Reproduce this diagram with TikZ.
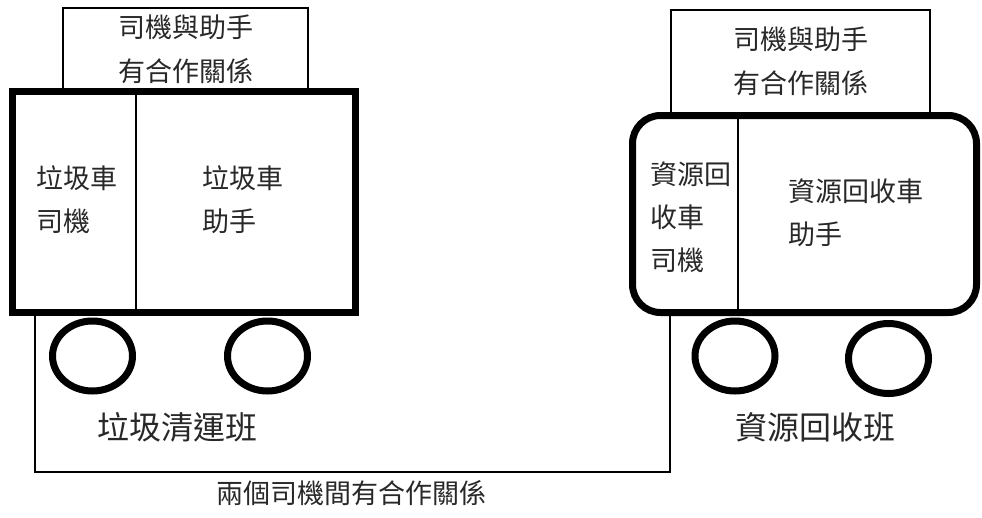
\documentclass[tikz,border=0pt]{standalone}
\usepackage{fontspec}
\newfontfamily\cjk{Noto Sans CJK TC}
\usetikzlibrary{shapes.geometric}
\definecolor{txt}{RGB}{40,40,40}
\tikzset{
  thinline/.style={line width=1.3pt, draw=black},
  topbox/.style={thinline, rectangle, inner sep=0pt, align=center, text=txt,
    font=\cjk\fontsize{27}{44}\selectfont},
  truckbody/.style={draw=black, line width=7pt, fill=white, inner sep=0pt},
  wheel/.style={ellipse, draw=black, line width=7pt, fill=white, inner sep=0pt,
    minimum width=80pt, minimum height=70pt},
  celltext/.style={inner sep=0pt, anchor=west, align=left, text=txt,
    font=\cjk\fontsize{27}{43}\selectfont},
  teamlabel/.style={inner sep=0pt, text=txt, font=\cjk\fontsize{32}{36}\selectfont},
  notelabel/.style={inner sep=0pt, text=txt, font=\cjk\fontsize{27}{32}\selectfont}
}
\begin{document}
\begin{tikzpicture}[x=1pt,y=-1pt]
\useasboundingbox (0,0) rectangle (982,517);
% top relationship boxes
\node[topbox, minimum width=245pt, minimum height=82pt] (ltop) at (185.5,49) {司機與助手\\有合作關係};
\node[topbox, minimum width=259pt, minimum height=103pt] (rtop) at (800.5,61.5) {司機與助手\\有合作關係};
% truck bodies
\node[truckbody, rectangle, minimum width=343pt, minimum height=221pt] (ltruck) at (184,202) {};
\node[truckbody, rectangle, rounded corners=28pt, minimum width=344pt, minimum height=197pt] (rtruck) at (804.5,214) {};
% dividers
\coordinate (ldiv) at (136,0);
\coordinate (rdiv) at (738,0);
\draw[thinline] (ltruck.north -| ldiv) -- (ltruck.south -| ldiv);
\draw[thinline] (rtruck.north -| rdiv) -- (rtruck.south -| rdiv);
% cell texts
\node[celltext] (ldriver) at (36,200) {垃圾車\\司機};
\node[celltext] (lhelper) at (202,200) {垃圾車\\助手};
\node[celltext] (rdriver) at (650,217.5) {資源回\\收車\\司機};
\node[celltext] (rhelper) at (788,212.5) {資源回收車\\助手};
% wheels
\node[wheel] (lw1) at (92.5,356) {};
\node[wheel] (lw2) at (267.5,356) {};
\node[wheel] (rw1) at (735,356) {};
\node[wheel] (rw2) at (888.5,358.5) {};
% team labels
\node[teamlabel] (lteam) at (177,427) {垃圾清運班};
\node[teamlabel] (rteam) at (815,427) {資源回收班};
% bracket between the two drivers
\coordinate (bl) at (35,472);
\coordinate (br) at (670,472);
\draw[thinline] (ltruck.south -| bl) -- (bl) -- (br) -- (rtruck.south -| br);
\node[notelabel] (note) at (351,493) {兩個司機間有合作關係};
\end{tikzpicture}
\end{document}
